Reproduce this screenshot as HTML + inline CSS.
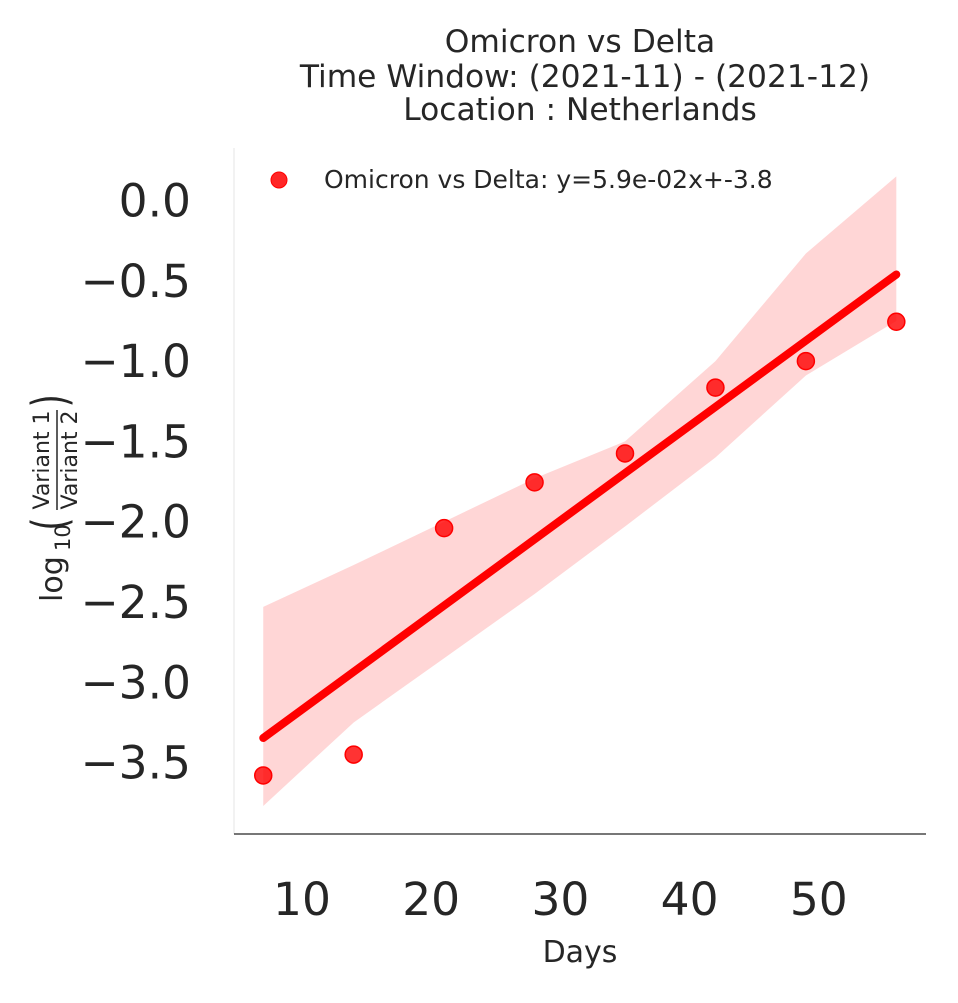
<!DOCTYPE html>
<html><head><meta charset="utf-8"><style>
body{margin:0;background:#fff;width:958px;height:998px;overflow:hidden}
svg text{font-family:"DejaVu Sans","Liberation Sans",sans-serif;fill:#262626}
</style></head><body>
<svg id="chart" width="958" height="998" xmlns="http://www.w3.org/2000/svg">
<g font-size="31.3" text-anchor="middle">
<text x="580" y="52">Omicron vs Delta</text>
<text x="585" y="87">Time Window: (2021-11) - (2021-12)</text>
<text x="580" y="120">Location : Netherlands</text>
</g>
<line x1="234" y1="148" x2="234" y2="834" stroke="#e6e6e6" stroke-width="1"/>
<line x1="234" y1="834" x2="926" y2="834" stroke="#262626" stroke-width="1.2"/>
<g id="yticks" font-size="45.5" text-anchor="end"></g>
<g id="xticks" font-size="45.5" text-anchor="middle"></g>
<path id="band" fill="#ff0000" fill-opacity="0.16"/>
<line id="fit" stroke="#ff0000" stroke-width="8" stroke-linecap="round"/>
<g id="pts"></g>
<text x="580" y="962" font-size="30" text-anchor="middle">Days</text>
<g transform="translate(62,490) rotate(-90)" font-size="30">
<text x="-112" y="0">log</text><text x="-61" y="8" font-size="21">10</text>
<text x="-40" y="4" font-size="48" transform="scale(0.7,1)" dx="-18">(</text>
<text x="30" y="-13" font-size="22" text-anchor="middle">Variant 1</text>
<line x1="-20" y1="-5" x2="80" y2="-5" stroke="#262626" stroke-width="1.5"/>
<text x="30" y="15" font-size="22" text-anchor="middle">Variant 2</text>
<text x="118" y="4" font-size="48" transform="scale(0.7,1)">)</text>
</g>
<g>
<circle cx="279" cy="180" r="8" fill="#ff0000" fill-opacity="0.85" stroke="#ff0000"/>
<text x="324" y="188" font-size="25">Omicron vs Delta: y=5.9e-02x+-3.8</text>
</g>
</svg>
<script>
const days=[7,14,21,28,35,42,49,56];
const values=[-3.58,-3.45,-2.04,-1.755,-1.575,-1.165,-1.0,-0.755];
const ciX=[7,14,21,28,35,42,49,56];
const ciUpper=[-2.53,-2.27,-2.0,-1.73,-1.5,-1.0,-0.33,0.15];
const ciLower=[-3.77,-3.25,-2.85,-2.45,-2.03,-1.6,-1.09,-0.75];
const fitSlope=0.0589, fitIntercept=-3.759;
const yTicks=[0,-0.5,-1,-1.5,-2,-2.5,-3,-3.5];
const yTickLabels=["0.0","−0.5","−1.0","−1.5","−2.0","−2.5","−3.0","−3.5"];
const xTicks=[10,20,30,40,50];
const xTickLabels=["10","20","30","40","50"];
const NS="http://www.w3.org/2000/svg";
const sx=v=>302+(v-10)*12.92;
const sy=v=>200.5-v*160.6;
const yt=document.getElementById('yticks');
yTicks.forEach((t,i)=>{const e=document.createElementNS(NS,'text');


e.setAttribute('x',191);e.setAttribute('y',sy(t)+16);e.textContent=yTickLabels[i];yt.appendChild(e);});
const xt=document.getElementById('xticks');
xTicks.forEach((t,i)=>{const e=document.createElementNS(NS,'text');


e.setAttribute('x',sx(t));e.setAttribute('y',915);e.textContent=xTickLabels[i];xt.appendChild(e);});
let d='M'+ciX.map((x,i)=>sx(x)+','+sy(ciUpper[i])).join('L');
for(let i=ciX.length-1;i>=0;i--)d+='L'+sx(ciX[i])+','+sy(ciLower[i]);
document.getElementById('band').setAttribute('d',d+'Z');
const f=document.getElementById('fit');
const x0=days[0],x1=days[days.length-1];
f.setAttribute('x1',sx(x0));f.setAttribute('y1',sy(fitSlope*x0+fitIntercept));
f.setAttribute('x2',sx(x1));f.setAttribute('y2',sy(fitSlope*x1+fitIntercept));
const pg=document.getElementById('pts');
days.forEach((x,i)=>{const c=document.createElementNS(NS,'circle');


c.setAttribute('cx',sx(x));c.setAttribute('cy',sy(values[i]));c.setAttribute('r',8.5);
c.setAttribute('fill','#ff0000');c.setAttribute('fill-opacity','0.8');c.setAttribute('stroke','#ff0000');c.setAttribute('stroke-width','1.5');
pg.appendChild(c);});
</script>
</body></html>
